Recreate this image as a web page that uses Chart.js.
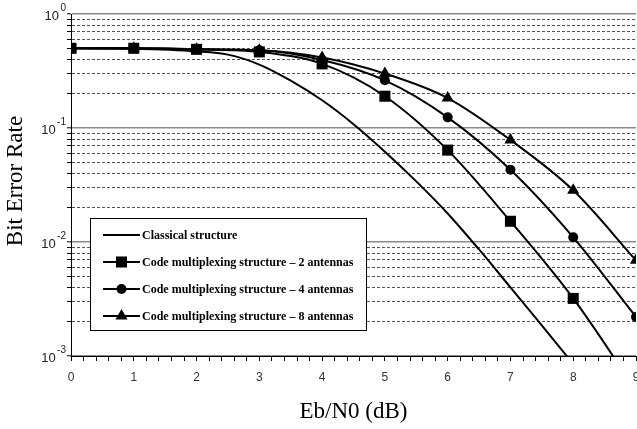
<!DOCTYPE html>
<html>
<head>
<meta charset="utf-8">
<script src="https://cdn.jsdelivr.net/npm/chart.js@4/dist/chart.umd.min.js"></script>
<style>
html,body{margin:0;padding:0;background:#fff;}
#c{display:block;}
</style>
</head>
<body>
<canvas id="c" width="637" height="429"></canvas>
<script>
// ---- Data ----
const xLabelTitle = 'Eb/N0 (dB)';
const yLabelTitle = 'Bit Error Rate';
const yDecades = [1, 0.1, 0.01, 0.001];
const yDecadeExponents = ['0', '-1', '-2', '-3'];
const yTickValues = [
  0.001,0.002,0.003,0.004,0.005,0.006,0.007,0.008,0.009,
  0.01,0.02,0.03,0.04,0.05,0.06,0.07,0.08,0.09,
  0.1,0.2,0.3,0.4,0.5,0.6,0.7,0.8,0.9,1
];
const seriesNames = [
  'Classical structure',
  'Code multiplexing structure \u2013 2 antennas',
  'Code multiplexing structure \u2013 4 antennas',
  'Code multiplexing structure \u2013 8 antennas'
];
const classicalX = [0,1,2,2.5,3,3.5,4,4.5,5,5.5,6,6.5,7,7.5,8];
const classicalY = [0.5,0.495,0.47,0.44,0.36,0.26,0.175,0.108,0.062,0.034,0.0178,0.0086,0.004,0.00186,0.00085];
const markerX = [0,1,2,3,4,5,6,7,8,9];
const ant2Y = [0.5,0.5,0.49,0.465,0.365,0.19,0.064,0.0152,0.0032,0.0005];
const ant2Marked = [1,1,1,1,1,1,1,1,1,0];
const ant4Y = [0.5,0.5,0.49,0.48,0.395,0.262,0.124,0.043,0.011,0.0022];
const ant8Y = [0.5,0.5,0.49,0.48,0.415,0.30,0.183,0.0785,0.0284,0.0069];

const toPts = (xs, ys) => xs.map((x, i) => ({x: x, y: ys[i]}));
const isDecade = v => yDecades.some(d => Math.abs(v - d) / d < 1e-6);

const base = {
  borderColor: '#000', backgroundColor: '#000', borderWidth: 2,
  pointBorderColor: '#000', pointBackgroundColor: '#000', pointBorderWidth: 0,
  cubicInterpolationMode: 'monotone', fill: false
};

const datasets = [
  Object.assign({}, base, {label: seriesNames[0], data: toPts(classicalX, classicalY), pointRadius: 0}),
  Object.assign({}, base, {label: seriesNames[1], data: toPts(markerX, ant2Y), pointStyle: 'rect',
    pointRadius: ant2Marked.map(m => m ? 7.8 : 0)}),
  Object.assign({}, base, {label: seriesNames[2], data: toPts(markerX, ant4Y), pointStyle: 'circle', pointRadius: 5}),
  Object.assign({}, base, {label: seriesNames[3], data: toPts(markerX, ant8Y), pointStyle: 'triangle', pointRadius: 7})
];

const overlay = {
  id: 'overlay',
  afterDraw(chart) {
    const ctx = chart.ctx;
    const ys = chart.scales.y;
    const area = chart.chartArea;
    ctx.save();
    // y decade labels 10^n
    ctx.fillStyle = '#222';
    ctx.textBaseline = 'middle';
    yDecades.forEach((v, i) => {
      const py = ys.getPixelForValue(v);
      ctx.font = '10px "Liberation Sans"';
      const ew = ctx.measureText(yDecadeExponents[i]).width;
      const ex = 66 - ew;
      ctx.textAlign = 'left';
      ctx.fillText(yDecadeExponents[i], ex, py - 6);
      ctx.font = '13px "Liberation Sans"';
      ctx.textAlign = 'right';
      ctx.fillText('10', ex - 1.5, py + 2);
    });
    // axis titles
    ctx.fillStyle = '#000';
    ctx.font = '23px "Liberation Serif"';
    ctx.textAlign = 'center';
    ctx.textBaseline = 'middle';
    ctx.fillText(xLabelTitle, (area.left + area.right) / 2, 412);
    ctx.save();
    ctx.translate(16, 181);
    ctx.rotate(-Math.PI / 2);
    ctx.fillText(yLabelTitle, 0, 0);
    ctx.restore();
    // legend
    const L = 90, T = 218, W = 276, H = 112;
    ctx.fillStyle = '#fff';
    ctx.fillRect(L, T, W, H);
    ctx.strokeStyle = '#000';
    ctx.lineWidth = 1;
    ctx.strokeRect(L + 0.5, T + 0.5, W, H);
    chart.data.datasets.forEach((ds, i) => {
      const cy = 235 + i * 27;
      ctx.strokeStyle = '#000';
      ctx.lineWidth = 2;
      ctx.beginPath();
      ctx.moveTo(103, cy);
      ctx.lineTo(140, cy);
      ctx.stroke();
      if (i > 0) {
        const r = Array.isArray(ds.pointRadius) ? ds.pointRadius[0] : ds.pointRadius;
        ctx.fillStyle = '#000';
        Chart.helpers.drawPoint(ctx, {pointStyle: ds.pointStyle, radius: r, borderWidth: 0, rotation: 0}, 121.5, cy);
      }
      ctx.fillStyle = '#000';
      ctx.font = 'bold 12px "Liberation Serif"';
      ctx.textAlign = 'left';
      ctx.textBaseline = 'middle';
      ctx.fillText(ds.label, 142, cy + 1);
    });
    ctx.restore();
  }
};

new Chart(document.getElementById('c'), {
  type: 'line',
  data: {datasets: datasets},
  options: {
    responsive: false,
    devicePixelRatio: 1,
    animation: false,
    layout: {autoPadding: false, padding: {top: 14, right: 1, left: 0, bottom: 0}},
    plugins: {legend: {display: false}, tooltip: {enabled: false}},
    scales: {
      x: {
        type: 'linear', min: 0, max: 9,
        afterFit(s) { s.height = 73; s.paddingLeft = 0; s.paddingRight = 0; },
        ticks: {
          stepSize: 0.2, autoSkip: false, maxRotation: 0, padding: 9,
          color: '#333', font: {family: 'Liberation Sans', size: 12},
          callback: v => Math.abs(v - Math.round(v)) < 1e-6 ? String(Math.round(v)) : ''
        },
        grid: {drawOnChartArea: false, drawTicks: true, tickLength: 5, tickColor: '#000', tickWidth: 1},
        border: {color: '#000', width: 1}
      },
      y: {
        type: 'logarithmic', min: 0.001, max: 1,
        afterBuildTicks(s) { s.ticks = yTickValues.map(v => ({value: v})); },
        afterFit(s) { s.width = 71; s.paddingTop = 0; s.paddingBottom = 0; },
        ticks: {display: false},
        grid: {
          drawTicks: true, tickLength: 4, tickColor: '#000', tickWidth: 1,
          color: c => (c.tick && isDecade(c.tick.value)) ? '#8a8a8a' : '#555',
          lineWidth: c => (c.tick && isDecade(c.tick.value)) ? 1.6 : 1
        },
        border: {
          color: '#000', width: 1,
          dash: c => (c.tick && !isDecade(c.tick.value)) ? [3, 2] : []
        }
      }
    }
  },
  plugins: [overlay]
});
</script>
</body>
</html>
